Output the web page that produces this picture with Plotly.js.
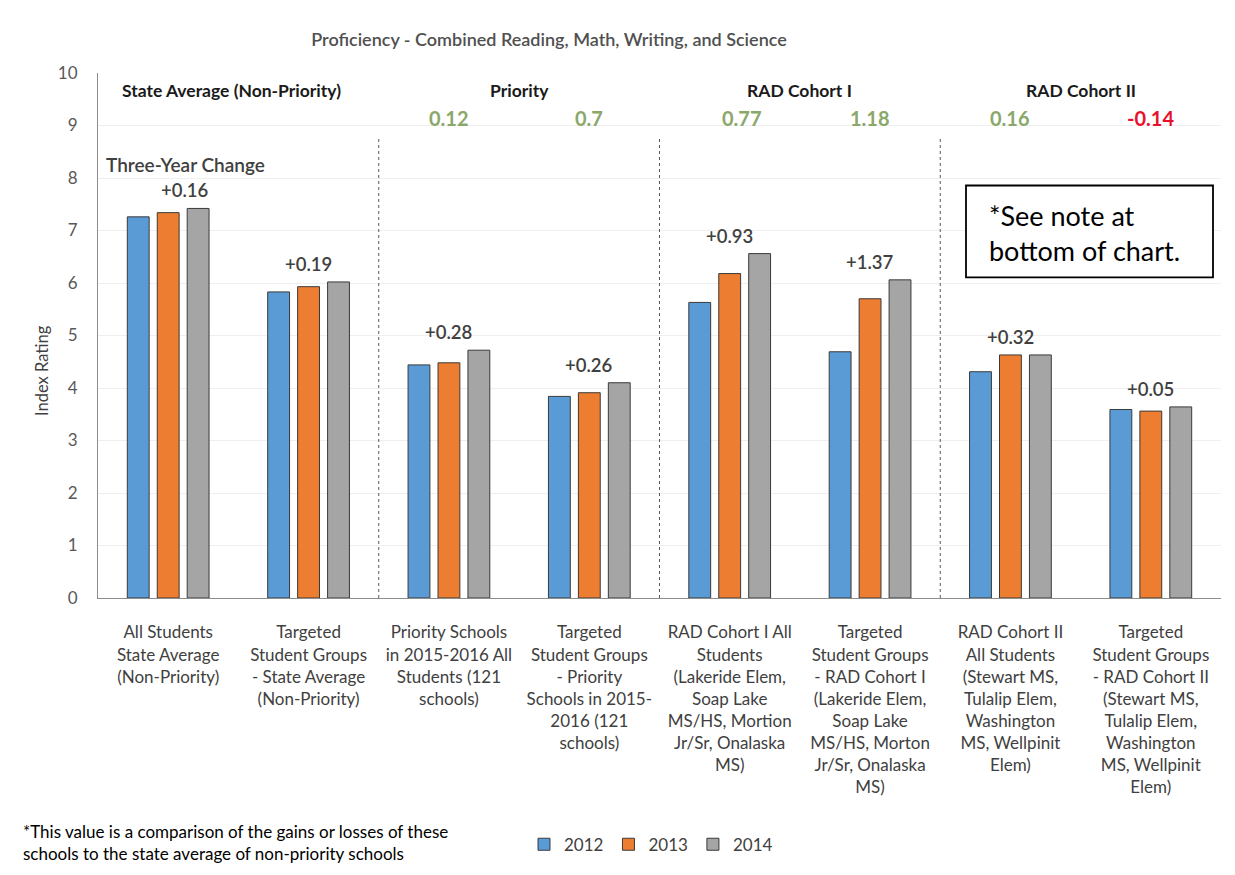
<!DOCTYPE html>
<html>
<head>
<meta charset="utf-8">
<script src="https://cdn.plot.ly/plotly-3.0.1.min.js"></script>
<style>
  html, body { margin: 0; padding: 0; background: #ffffff; }
  #chart { width: 1235px; height: 875px; }
</style>
</head>
<body>
<div id="chart"></div>
<script>
// ---------------- DATA ----------------
const categories = [
  "All Students<br>State Average<br>(Non-Priority)",
  "Targeted<br>Student Groups<br>- State Average<br>(Non-Priority)",
  "Priority Schools<br>in 2015-2016 All<br>Students (121<br>schools)",
  "Targeted<br>Student Groups<br>- Priority<br>Schools in 2015-<br>2016 (121<br>schools)",
  "RAD Cohort I All<br>Students<br>(Lakeride Elem,<br>Soap Lake<br>MS/HS, Mortion<br>Jr/Sr, Onalaska<br>MS)",
  "Targeted<br>Student Groups<br>- RAD Cohort I<br>(Lakeride Elem,<br>Soap Lake<br>MS/HS, Morton<br>Jr/Sr, Onalaska<br>MS)",
  "RAD Cohort II<br>All Students<br>(Stewart MS,<br>Tulalip Elem,<br>Washington<br>MS, Wellpinit<br>Elem)",
  "Targeted<br>Student Groups<br>- RAD Cohort II<br>(Stewart MS,<br>Tulalip Elem,<br>Washington<br>MS, Wellpinit<br>Elem)"
];
const seriesNames = ["2012", "2013", "2014"];
const values2012 = [7.26, 5.83, 4.44, 3.84, 5.63, 4.69, 4.31, 3.59];
const values2013 = [7.34, 5.93, 4.48, 3.91, 6.18, 5.70, 4.63, 3.56];
const values2014 = [7.42, 6.02, 4.72, 4.10, 6.56, 6.06, 4.63, 3.64];
const threeYearChange = [0.16, 0.19, 0.28, 0.26, 0.93, 1.37, 0.32, 0.05];
const relativeChange = [null, null, 0.12, 0.7, 0.77, 1.18, 0.16, -0.14];
const sectionLabels = ["State Average (Non-Priority)", "Priority", "RAD Cohort I", "RAD Cohort II"];
const yTickVals = [0, 1, 2, 3, 4, 5, 6, 7, 8, 9, 10];
const chartTitle = "Proficiency - Combined Reading, Math, Writing, and Science";
const yAxisTitle = "Index Rating";
const changeHeader = "Three-Year Change";
const boxNote = "*See note at<br>bottom of chart.";
const footNote = "*This value is a comparison of the gains or losses of these<br>schools to the state average of non-priority schools";

// ---------------- STYLE ----------------
const FONT = "Lato, 'Open Sans', sans-serif";
const colors = ["#5B9BD5", "#ED7D31", "#A5A5A5"];
const seriesValues = [values2012, values2013, values2014];

// plot area in pixels
const PL = 98, PR = 1221, PT = 73, PB = 605;
const W = 1235, H = 875;
const xp = px => (px - PL) / (PR - PL);
const yp = py => (PB - py) / (PB - PT);

const traces = seriesNames.map((name, i) => ({
  type: "bar",
  name: name,
  x: categories,
  y: seriesValues[i],
  marker: { color: colors[i], line: { color: "#3a3a3a", width: 1 } },
  hoverinfo: "x+y+name"
}));

const annotations = [];

// three-year change labels above each group
categories.forEach((c, i) => {
  const top = Math.max(values2012[i], values2013[i], values2014[i]);
  const v = threeYearChange[i];
  annotations.push({
    x: i, y: top, xref: "x", yref: "y",
    text: (v >= 0 ? "+" : "") + v.toFixed(2),
    showarrow: false, yanchor: "bottom", yshift: 5, xshift: i === 0 ? 17 : 0,
    font: { family: FONT, size: 18.5, color: "#404040", weight: 600 }
  });
});

// relative change values (green / red)
relativeChange.forEach((v, i) => {
  if (v === null) return;
  annotations.push({
    x: i, y: 9.15, xref: "x", yref: "y", xshift: i === 4 ? 12 : 0,
    text: "<b>" + String(v) + "</b>",
    showarrow: false, yanchor: "middle",
    font: { family: FONT, size: 20, color: v >= 0 ? "#8AA86A" : "#E8112D" }
  });
});

// section headers
sectionLabels.forEach((s, k) => {
  annotations.push({
    x: 2 * k + 0.5 - (k === 0 ? 0.05 : 0), y: 9.66, xref: "x", yref: "y",
    text: "<b>" + s + "</b>",
    showarrow: false, yanchor: "middle",
    font: { family: FONT, size: 17.5, color: "#1a1a1a" }
  });
});

// "Three-Year Change"
annotations.push({
  x: 0, y: 8.25, xref: "x", yref: "y", xshift: 17,
  text: changeHeader, showarrow: false, yanchor: "middle",
  font: { family: FONT, size: 19, color: "#404040", weight: 600 }
});

// boxed note text
annotations.push({
  x: xp(987), y: yp(235), xref: "paper", yref: "paper",
  text: boxNote, showarrow: false, align: "left",
  xanchor: "left", yanchor: "middle",
  font: { family: FONT, size: 27, color: "#000000" }
});

// y axis title
annotations.push({
  x: xp(42), y: yp(375), xref: "paper", yref: "paper",
  text: yAxisTitle, textangle: -90, showarrow: false,
  xanchor: "center", yanchor: "middle",
  font: { family: FONT, size: 16.5, color: "#404040" }
});

// footnote
annotations.push({
  x: xp(21), y: yp(829), xref: "paper", yref: "paper",
  text: footNote, showarrow: false, align: "left",
  xanchor: "left", yanchor: "top",
  font: { family: FONT, size: 17, color: "#000000" }
});

// dotted separators between sections
const shapes = [1.5, 3.5, 5.5].map(xv => ({
  type: "line", xref: "x", yref: "y",
  x0: xv, x1: xv, y0: 0, y1: 8.8,
  line: { color: "#595959", width: 1, dash: "dot" }
}));
// box around note
shapes.push({
  type: "rect", xref: "paper", yref: "paper",
  x0: xp(966), x1: xp(1213), y0: yp(187), y1: yp(280),
  line: { color: "#000000", width: 1.8 }, fillcolor: "#ffffff", layer: "above"
});

const layout = {
  width: W, height: H,
  margin: { l: PL, r: W - PR, t: PT, b: H - PB, pad: 0 },
  paper_bgcolor: "#ffffff",
  plot_bgcolor: "#ffffff",
  title: {
    text: chartTitle,
    x: 549 / W, xref: "container", xanchor: "center",
    y: 1 - 40 / H, yref: "container", yanchor: "middle",
    font: { family: FONT, size: 18, color: "#505050", weight: 600 }
  },
  barmode: "group",
  bargap: 0.36,
  bargroupgap: 0.27,
  xaxis: {
    type: "category",
    showline: true, linecolor: "#8c8c8c", linewidth: 1,
    ticks: "", showgrid: false, zeroline: false,
    ticklabelstandoff: 19,
    tickfont: { family: FONT, size: 17, color: "#404040" },
    tickangle: 0,
    automargin: false
  },
  yaxis: {
    range: [0, 10],
    tickvals: yTickVals,
    showline: true, linecolor: "#8c8c8c", linewidth: 1,
    showgrid: true, gridcolor: "#efefef", gridwidth: 1,
    zeroline: false, ticks: "",
    ticklabelstandoff: 16,
    tickfont: { family: FONT, size: 17, color: "#595959" },
    automargin: false
  },
  showlegend: true,
  legend: {
    orientation: "h",
    x: xp(524), y: yp(855), xref: "paper", yref: "paper",
    xanchor: "left", yanchor: "middle",
    font: { family: FONT, size: 17, color: "#404040" },
    itemwidth: 30, traceorder: "normal",
    bgcolor: "rgba(0,0,0,0)"
  },
  annotations: annotations,
  shapes: shapes
};

Plotly.newPlot("chart", traces, layout, { displayModeBar: false, staticPlot: true });
</script>
</body>
</html>
